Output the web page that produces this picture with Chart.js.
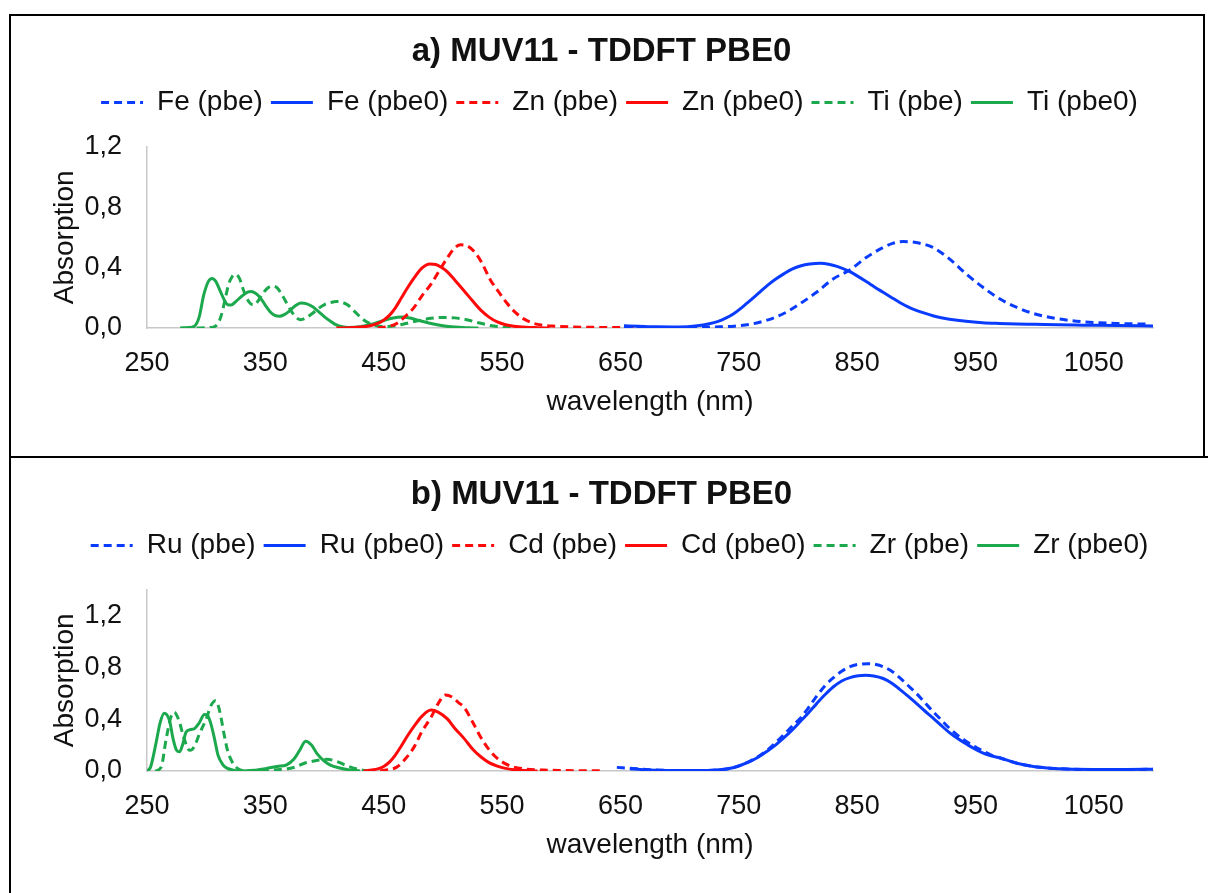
<!DOCTYPE html>
<html>
<head>
<meta charset="utf-8">
<script src="https://cdn.jsdelivr.net/npm/chart.js@4.4.1/dist/chart.umd.min.js"></script>
<style>
  html, body { margin: 0; padding: 0; background: #fff; }
  body { width: 1208px; height: 893px; position: relative; overflow: hidden; }
  canvas { position: absolute; left: 0; }
  #chartA { top: 0; }
  #chartB { top: 458px; }
  .rule { position: absolute; background: #000; }
</style>
</head>
<body>
<canvas id="chartA" width="1208" height="457"></canvas>
<canvas id="chartB" width="1208" height="435"></canvas>
<div class="rule" style="left:9px;top:14px;width:1196px;height:2px"></div>
<div class="rule" style="left:9px;top:14px;width:2px;height:879px"></div>
<div class="rule" style="left:1203px;top:14px;width:2px;height:444px"></div>
<div class="rule" style="left:9px;top:456px;width:1199px;height:2px"></div>
<script>
// Axis ticks
const xTickValues = [250, 350, 450, 550, 650, 750, 850, 950, 1050];
const yTickValues = [0, 0.4, 0.8, 1.2];

// ---- a) Fe / Zn / Ti spectra ----
const fePbeNm  = [653, 680, 700, 712, 730, 746, 760, 774, 788, 802, 816, 830, 843, 858, 872, 880, 889, 900, 914, 928, 942, 956, 970, 985, 999, 1018, 1041, 1069, 1097];
const fePbeAbs = [0.004, 0.003, 0.003, 0.004, 0.007, 0.012, 0.025, 0.052, 0.096, 0.162, 0.238, 0.326, 0.38, 0.468, 0.533, 0.56, 0.572, 0.565, 0.533, 0.457, 0.358, 0.271, 0.195, 0.136, 0.096, 0.063, 0.041, 0.03, 0.026];

const fePbe0Nm  = [653, 665, 680, 700, 715, 725, 732, 739, 746, 753, 760, 767, 774, 781, 788, 795, 802, 810, 819, 826, 833, 843, 850, 858, 865, 872, 879, 886, 893, 900, 907, 914, 921, 928, 942, 956, 970, 985, 1000, 1020, 1041, 1070, 1100];
const fePbe0Abs = [0.015, 0.012, 0.008, 0.007, 0.015, 0.028, 0.042, 0.065, 0.096, 0.138, 0.184, 0.232, 0.28, 0.322, 0.358, 0.39, 0.41, 0.423, 0.428, 0.422, 0.408, 0.376, 0.345, 0.306, 0.27, 0.236, 0.202, 0.169, 0.14, 0.117, 0.098, 0.081, 0.068, 0.058, 0.044, 0.035, 0.03, 0.026, 0.024, 0.021, 0.019, 0.016, 0.014];

const znPbeNm  = [445, 455, 461, 468, 476, 482, 490, 497, 504, 510, 515, 520, 526, 533, 540, 547, 554, 561, 568, 575, 583, 595, 610, 630, 650, 680, 700];
const znPbeAbs = [0, 0.012, 0.03, 0.075, 0.14, 0.21, 0.29, 0.38, 0.467, 0.53, 0.55, 0.545, 0.51, 0.43, 0.32, 0.24, 0.165, 0.105, 0.062, 0.035, 0.02, 0.012, 0.007, 0.004, 0.003, 0.002, 0.001];

const znPbe0Nm  = [410, 425, 435, 440, 445, 450, 455, 460, 465, 470, 476, 482, 489, 494, 499, 504, 510, 518, 525, 532, 539, 546, 553, 560, 570, 580, 590];
const znPbe0Abs = [0, 0.003, 0.01, 0.018, 0.03, 0.052, 0.085, 0.135, 0.2, 0.265, 0.335, 0.395, 0.424, 0.42, 0.4, 0.37, 0.318, 0.245, 0.18, 0.118, 0.072, 0.04, 0.022, 0.012, 0.005, 0.002, 0];

const tiPbeNm  = [292, 300, 306, 310, 313, 316, 319, 322, 325, 328, 332, 336, 340, 344, 348, 352, 356, 360, 364, 368, 372, 376, 380, 385, 390, 395, 400, 405, 410, 414, 420, 426, 432, 438, 445, 452, 460, 470, 480, 490, 500, 510, 520, 530, 540, 550, 560];
const tiPbeAbs = [0, 0.002, 0.006, 0.03, 0.09, 0.19, 0.29, 0.34, 0.355, 0.33, 0.24, 0.175, 0.152, 0.18, 0.23, 0.265, 0.278, 0.265, 0.22, 0.165, 0.11, 0.07, 0.055, 0.07, 0.098, 0.13, 0.155, 0.168, 0.175, 0.172, 0.15, 0.105, 0.06, 0.03, 0.013, 0.01, 0.015, 0.032, 0.05, 0.064, 0.07, 0.067, 0.055, 0.035, 0.017, 0.006, 0];

const tiPbe0Nm  = [278, 285, 290, 294, 298, 302, 305, 308, 311, 315, 318, 321, 325, 330, 335, 338, 342, 346, 350, 354, 358, 362, 366, 370, 375, 380, 385, 390, 395, 400, 405, 410, 415, 420, 430, 440, 450, 458, 465, 472, 480, 490, 500, 510, 520, 530];
const tiPbe0Abs = [0, 0.003, 0.012, 0.07, 0.22, 0.31, 0.328, 0.31, 0.26, 0.19, 0.155, 0.152, 0.175, 0.21, 0.237, 0.242, 0.228, 0.197, 0.15, 0.108, 0.083, 0.077, 0.088, 0.11, 0.145, 0.165, 0.16, 0.14, 0.108, 0.074, 0.045, 0.02, 0.008, 0.004, 0.008, 0.025, 0.05, 0.066, 0.072, 0.066, 0.05, 0.03, 0.015, 0.006, 0.002, 0];

// ---- b) Ru / Cd / Zr spectra ----
const ruPbeNm  = [647, 660, 675, 690, 710, 728, 745, 760, 774, 788, 795, 802, 809, 816, 823, 830, 837, 844, 851, 859, 866, 872, 879, 886, 893, 900, 907, 914, 921, 928, 935, 942, 949, 956, 963, 971, 985, 999, 1013, 1027, 1050, 1075, 1100];
const ruPbeAbs = [0.028, 0.02, 0.01, 0.005, 0.003, 0.006, 0.025, 0.078, 0.16, 0.28, 0.345, 0.408, 0.49, 0.58, 0.66, 0.72, 0.77, 0.805, 0.823, 0.828, 0.822, 0.805, 0.772, 0.72, 0.66, 0.6, 0.53, 0.46, 0.395, 0.33, 0.275, 0.23, 0.19, 0.155, 0.125, 0.1, 0.06, 0.035, 0.022, 0.015, 0.012, 0.012, 0.013];

const ruPbe0Nm  = [658, 670, 690, 710, 728, 745, 760, 767, 774, 781, 788, 795, 802, 809, 816, 823, 830, 837, 844, 851, 857, 864, 872, 879, 886, 893, 900, 907, 914, 921, 928, 935, 942, 949, 956, 963, 971, 985, 999, 1013, 1027, 1050, 1075, 1100];
const ruPbe0Abs = [0.018, 0.01, 0.004, 0.003, 0.006, 0.025, 0.076, 0.11, 0.153, 0.2, 0.255, 0.315, 0.382, 0.45, 0.522, 0.59, 0.65, 0.695, 0.721, 0.735, 0.739, 0.733, 0.714, 0.68, 0.63, 0.578, 0.522, 0.465, 0.41, 0.352, 0.296, 0.25, 0.21, 0.172, 0.14, 0.118, 0.1, 0.06, 0.035, 0.022, 0.015, 0.012, 0.012, 0.013];

const cdPbeNm  = [447, 455, 461, 468, 476, 482, 490, 496, 502, 508, 513, 518, 525, 532, 539, 546, 553, 560, 570, 585, 600, 620, 635];
const cdPbeAbs = [0, 0.012, 0.03, 0.09, 0.19, 0.3, 0.415, 0.52, 0.586, 0.57, 0.53, 0.49, 0.38, 0.26, 0.165, 0.097, 0.055, 0.03, 0.015, 0.007, 0.004, 0.002, 0.001];

const cdPbe0Nm  = [433, 440, 445, 450, 455, 460, 465, 470, 476, 482, 490, 496, 504, 510, 518, 525, 532, 539, 546, 553, 560, 570, 580];
const cdPbe0Abs = [0, 0.008, 0.016, 0.035, 0.07, 0.125, 0.195, 0.27, 0.35, 0.42, 0.47, 0.455, 0.4, 0.33, 0.25, 0.17, 0.11, 0.065, 0.038, 0.02, 0.01, 0.003, 0];

const zrPbeNm  = [257, 262, 266, 270, 273, 277, 281, 286, 288, 291, 294, 297, 300, 304, 308, 310, 312.5, 315, 318, 322, 326.5, 335, 350, 360, 369, 375, 383, 390, 396, 402, 410, 419, 428, 436];
const zrPbeAbs = [0, 0.03, 0.237, 0.41, 0.454, 0.39, 0.26, 0.16, 0.165, 0.21, 0.28, 0.34, 0.4, 0.505, 0.543, 0.51, 0.415, 0.29, 0.16, 0.07, 0.02, 0, 0.003, 0.01, 0.018, 0.03, 0.06, 0.075, 0.085, 0.09, 0.075, 0.04, 0.015, 0];

const zrPbe0Nm  = [250, 253, 257.5, 261, 264.5, 269, 272, 275, 277.5, 280, 283, 287, 290, 294, 298.5, 301, 304, 307, 310, 314, 318, 324, 330, 340, 350, 360, 368, 374, 379, 384, 389, 394, 400, 405, 412, 420, 430];
const zrPbe0Abs = [0, 0.03, 0.21, 0.37, 0.446, 0.39, 0.25, 0.16, 0.148, 0.2, 0.3, 0.32, 0.326, 0.37, 0.436, 0.43, 0.364, 0.25, 0.122, 0.05, 0.02, 0.005, 0, 0.005, 0.018, 0.035, 0.048, 0.09, 0.16, 0.23, 0.2, 0.13, 0.075, 0.046, 0.025, 0.01, 0];

const BLUE = '#0a3cff';
const RED = '#ff0a0a';
const GREEN = '#1ca84c';
const FONT = "'Liberation Sans', Arial, sans-serif";
const INK = '#111111';
const AXIS = '#c8c8c8';

function series(label, nm, abs, color, dashed) {
  return {
    label,
    data: nm.map((x, i) => ({ x, y: abs[i] })),
    borderColor: color,
    backgroundColor: color,
    borderWidth: 3,
    borderDash: dashed ? [8, 5] : [],
    pointRadius: 0,
    pointHoverRadius: 0,
    fill: false,
    cubicInterpolationMode: 'monotone'
  };
}

// Legend entries drawn as short line samples carrying each dataset's dash pattern
function lineLegendLabels(chart) {
  const items = Chart.defaults.plugins.legend.labels.generateLabels(chart);
  items.forEach(it => {
    const ds = chart.data.datasets[it.datasetIndex];
    it.lineDash = ds.borderDash;
    it.lineWidth = ds.borderWidth;
    it.strokeStyle = ds.borderColor;
    it.fillStyle = ds.borderColor;
  });
  return items;
}

// Nudges the title and legend bands after layout
const bandOffset = {
  id: 'bandOffset',
  afterLayout(chart, args, opts) {
    const lg = chart.legend;
    if (lg) {
      lg.left += opts.legendDx; lg.right += opts.legendDx;
      lg.top += opts.legendDy; lg.bottom += opts.legendDy;
    }
    const tt = chart.titleBlock;
    if (tt) {
      tt.left += opts.titleDx; tt.right += opts.titleDx;
    }
  }
};

function makeOptions(titleText, yMax, padTop, padBottom) {
  return {
    responsive: false,
    animation: false,
    events: [],
    layout: { padding: { top: padTop, left: 10, right: 55, bottom: padBottom } },
    plugins: {
      title: {
        display: true,
        text: titleText,
        color: INK,
        font: { family: FONT, size: 33, weight: 'bold' },
        padding: { top: 15, bottom: 29 }
      },
      legend: {
        display: true,
        position: 'top',
        labels: {
          usePointStyle: true,
          pointStyle: 'line',
          pointStyleWidth: 42,
          padding: 8,
          color: INK,
          font: { family: FONT, size: 28 },
          generateLabels: lineLegendLabels
        }
      },
      tooltip: { enabled: false },
      bandOffset: { legendDx: 38, legendDy: -20, titleDx: 20 }
    },
    scales: {
      x: {
        type: 'linear',
        min: 250,
        max: 1100,
        afterBuildTicks: s => { s.ticks = xTickValues.map(v => ({ value: v })); },
        grid: { display: false, drawTicks: true, tickLength: 19 },
        border: { display: true, color: AXIS, width: 1.5 },
        ticks: { color: INK, font: { family: FONT, size: 27 }, padding: 0, maxRotation: 0, autoSkip: false, callback: v => String(v) },
        title: { display: true, text: 'wavelength (nm)', color: INK, font: { family: FONT, size: 28 }, padding: { top: 6, bottom: 4 } }
      },
      y: {
        min: 0,
        max: yMax,
        afterBuildTicks: s => { s.ticks = yTickValues.map(v => ({ value: v })); },
        afterFit: s => { s.width = 137; },
        grid: { display: false, drawTicks: false },
        border: { display: true, color: AXIS, width: 1.5 },
        ticks: { color: INK, font: { family: FONT, size: 27 }, padding: 25, callback: v => v.toFixed(1).replace('.', ',') },
        title: { display: true, text: 'Absorption', color: INK, font: { family: FONT, size: 28 }, padding: { top: 38, bottom: 0 } }
      }
    }
  };
}

new Chart(document.getElementById('chartA'), {
  type: 'line',
  data: {
    datasets: [
      series('Fe (pbe)', fePbeNm, fePbeAbs, BLUE, true),
      series('Fe (pbe0)', fePbe0Nm, fePbe0Abs, BLUE, false),
      series('Zn (pbe)', znPbeNm, znPbeAbs, RED, true),
      series('Zn (pbe0)', znPbe0Nm, znPbe0Abs, RED, false),
      series('Ti (pbe)', tiPbeNm, tiPbeAbs, GREEN, true),
      series('Ti (pbe0)', tiPbe0Nm, tiPbe0Abs, GREEN, false)
    ]
  },
  options: makeOptions('a) MUV11 - TDDFT PBE0', 1.2, 17, 34),
  plugins: [bandOffset]
});

new Chart(document.getElementById('chartB'), {
  type: 'line',
  data: {
    datasets: [
      series('Ru (pbe)', ruPbeNm, ruPbeAbs, BLUE, true),
      series('Ru (pbe0)', ruPbe0Nm, ruPbe0Abs, BLUE, false),
      series('Cd (pbe)', cdPbeNm, cdPbeAbs, RED, true),
      series('Cd (pbe0)', cdPbe0Nm, cdPbe0Abs, RED, false),
      series('Zr (pbe)', zrPbeNm, zrPbeAbs, GREEN, true),
      series('Zr (pbe0)', zrPbe0Nm, zrPbe0Abs, GREEN, false)
    ]
  },
  options: makeOptions('b) MUV11 - TDDFT PBE0', 1.4, 2, 27),
  plugins: [bandOffset]
});
</script>
</body>
</html>
